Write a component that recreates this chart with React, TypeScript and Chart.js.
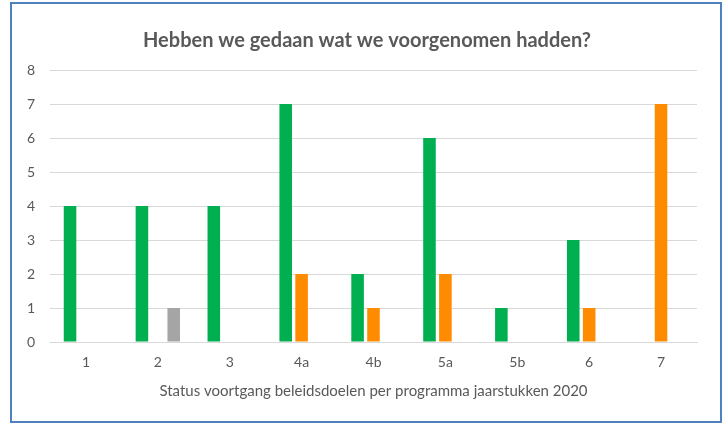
import React, { useEffect, useRef } from "react";
import { Chart, registerables } from "chart.js";

Chart.register(...registerables);

const categories = ["1", "2", "3", "4a", "4b", "5a", "5b", "6", "7"];
const greenValues = [4, 4, 4, 7, 2, 6, 1, 3, 0];
const orangeValues = [0, 0, 0, 2, 1, 2, 0, 1, 7];
const greyValues = [0, 1, 0, 0, 0, 0, 0, 0, 0];
const yTicks = [0, 1, 2, 3, 4, 5, 6, 7, 8];

const titleText = "Hebben we gedaan wat we voorgenomen hadden?";
const xTitleText = "Status voortgang beleidsdoelen per programma jaarstukken 2020";

const titleShift = {
  id: "titleShift",
  afterLayout(chart: any) {
    if (chart.titleBlock) {
      chart.titleBlock.left = 37;
      chart.titleBlock.right = 697;
    }
  },
};

export default function App() {
  const ref = useRef<HTMLCanvasElement | null>(null);

  useEffect(() => {
    document.body.style.margin = "0";
    if (!ref.current) return;
    const chart = new Chart(ref.current, {
      type: "bar",
      data: {
        labels: categories,
        datasets: [
          { label: "groen", data: greenValues, backgroundColor: "#00B050" },
          { label: "oranje", data: orangeValues, backgroundColor: "#FF8C00" },
          { label: "grijs", data: greyValues, backgroundColor: "#A5A5A5" },
        ],
      },
      plugins: [titleShift],
      options: {
        animation: false,
        responsive: false,
        maintainAspectRatio: false,
        datasets: {
          bar: { categoryPercentage: 0.664, barPercentage: 0.79 },
        },
        layout: { padding: { left: 0, right: 30, top: 0, bottom: 0 } },
        plugins: {
          legend: { display: false },
          tooltip: { enabled: false },
          title: {
            display: true,
            text: titleText,
            color: "#595959",
            font: { family: "Lato", size: 20, weight: "bold" },
            padding: { top: 29, bottom: 17 },
          },
        },
        scales: {
          x: {
            afterFit: (scale: any) => {
              scale.height = 83;
            },
            grid: { display: false, drawTicks: false },
            border: { display: true, color: "#D9D9D9", width: 1 },
            ticks: {
              color: "#595959",
              font: { family: "Lato", size: 14 },
              padding: 12,
            },
            title: {
              display: true,
              text: xTitleText,
              color: "#595959",
              font: { family: "Lato", size: 15 },
              padding: { top: 0, bottom: 25 },
            },
          },
          y: {
            min: 0,
            max: 8,
            afterFit: (scale: any) => {
              scale.width = 50;
            },
            afterBuildTicks: (scale: any) => {
              scale.ticks = yTicks.map((v) => ({ value: v }));
            },
            grid: { color: "#D9D9D9", lineWidth: 1, drawTicks: false },
            border: { display: false },
            ticks: {
              color: "#595959",
              font: { family: "Lato", size: 14 },
              padding: 15,
            },
          },
        },
      },
    });
    return () => chart.destroy();
  }, []);

  return (
    <div style={{ position: "relative", width: 727, height: 425, background: "#fff" }}>
      <canvas ref={ref} width={727} height={425} style={{ display: "block" }} />
      <div
        style={{
          position: "absolute",
          left: 10,
          top: 2,
          width: 712,
          height: 421,
          boxSizing: "border-box",
          border: "2px solid #4F81BD",
          pointerEvents: "none",
        }}
      />
    </div>
  );
}
